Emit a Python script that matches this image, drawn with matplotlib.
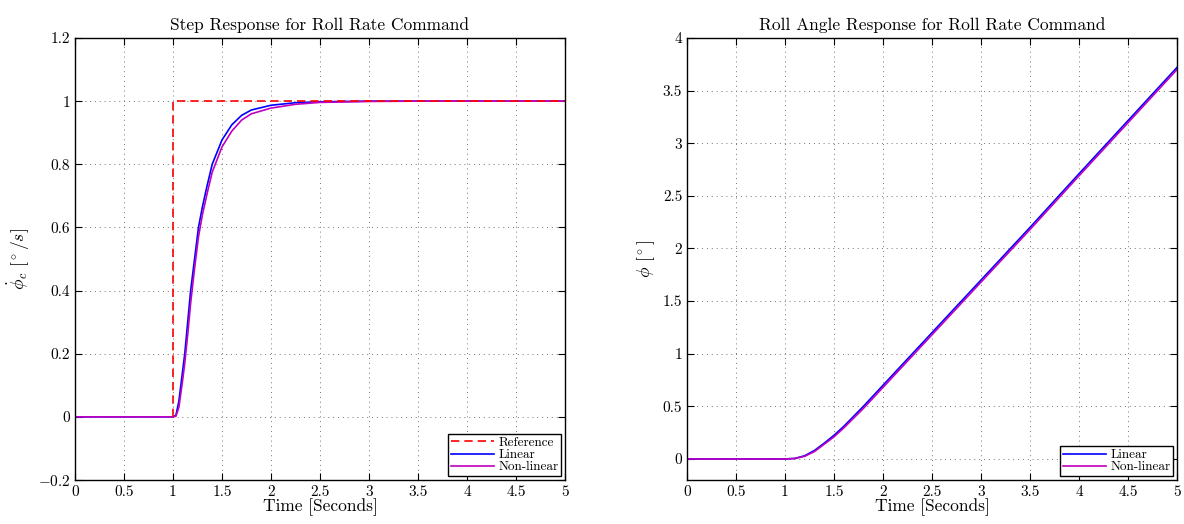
import numpy as np
from matplotlib import pyplot as plt

# step response
t_ref = [1.0, 1.0, 5.0]
r_ref = [0.0, 1.0, 1.0]

t_rate = [0.0, 0.5, 1.0, 1.03, 1.06, 1.1, 1.12, 1.15, 1.18, 1.22, 1.26, 1.3, 1.35,
          1.4, 1.5, 1.6, 1.7, 1.8, 2.0, 2.25, 2.5, 3.0, 3.5, 4.0, 4.5, 5.0]
rate_lin = [0.0, 0.0, 0.0, 0.005, 0.05, 0.15, 0.2, 0.3, 0.4, 0.5, 0.6, 0.665, 0.735,
            0.8, 0.877, 0.925, 0.955, 0.972, 0.987, 0.995, 0.998, 1.0, 1.0, 1.0, 1.0, 1.0]
rate_nl = [0.0, 0.0, 0.0, 0.002, 0.03, 0.12, 0.17, 0.26, 0.36, 0.47, 0.57, 0.64, 0.71,
           0.775, 0.855, 0.905, 0.94, 0.96, 0.978, 0.99, 0.996, 0.999, 1.0, 1.0, 1.0, 1.0]

# roll angle
t_ang = [0.0, 0.5, 1.0, 1.1, 1.2, 1.3, 1.4, 1.5, 1.6, 1.8, 2.0, 2.5, 3.0, 3.5, 4.0, 4.5, 5.0]
ang_lin = [0.0, 0.0, 0.0, 0.005, 0.03, 0.08, 0.15, 0.225, 0.31, 0.5, 0.7, 1.2, 1.7,
           2.2, 2.71, 3.215, 3.72]
ang_nl = [0.0, 0.0, 0.0, 0.004, 0.025, 0.07, 0.14, 0.21, 0.295, 0.48, 0.68, 1.18, 1.68,
          2.18, 2.69, 3.195, 3.70]

plt.rcParams['font.family'] = 'serif'
plt.rcParams['font.serif'] = ['cmr10', 'DejaVu Serif']
plt.rcParams['mathtext.fontset'] = 'cm'
plt.rcParams['axes.formatter.use_mathtext'] = True

fig = plt.figure(figsize=(11.84, 5.24), dpi=100)
ax1 = fig.add_axes([75/1184, 44/524, 490/1184, 442/524])
ax2 = fig.add_axes([687/1184, 44/524, 490/1184, 442/524])

leg_kw = dict(loc='lower right', fontsize=9.5, labelspacing=0.0, handlelength=3.3,
              handletextpad=0.3, borderpad=0.2, borderaxespad=0.3,
              fancybox=False, edgecolor='k', framealpha=1)

ax1.plot(t_rate, rate_lin, color='b', lw=1.2, label='Linear')
ax1.plot(t_rate, rate_nl, color='m', lw=1.2, label='Non-linear')
ax1.plot(t_ref, r_ref, 'r--', lw=1.2, label='Reference', dashes=(5, 3))
ax1.set_xlim(0, 5)
ax1.set_ylim(-0.2, 1.2)
ax1.set_yticks(np.arange(-0.2, 1.21, 0.2))
ax1.set_yticklabels(['$-0.2$', '0', '0.2', '0.4', '0.6', '0.8', '1', '1.2'])
ax1.set_title('Step Response for Roll Rate Command', fontsize=12.5)
ax1.set_xlabel('Time [Seconds]', fontsize=12.5, labelpad=0)
ax1.set_ylabel(r'$\dot{\phi}_c$ [$^\circ/s$]', fontsize=12.5)
h, l = ax1.get_legend_handles_labels()
ax1.legend([h[2], h[0], h[1]], [l[2], l[0], l[1]], **leg_kw)

ax2.plot(t_ang, ang_lin, color='b', lw=1.2, label='Linear')
ax2.plot(t_ang, ang_nl, color='m', lw=1.2, label='Non-linear')
ax2.set_xlim(0, 5)
ax2.set_ylim(-0.2, 4)
ax2.set_yticks(np.arange(0, 4.01, 0.5))
ax2.set_yticklabels(['0', '0.5', '1', '1.5', '2', '2.5', '3', '3.5', '4'])
ax2.set_title('Roll Angle Response for Roll Rate Command', fontsize=12.5)
ax2.set_xlabel('Time [Seconds]', fontsize=12.5, labelpad=0)
ax2.set_ylabel(r'$\phi$ [$^\circ$]', fontsize=12.5)
ax2.legend(**leg_kw)

for ax in (ax1, ax2):
    ax.set_xticks(np.arange(0, 5.01, 0.5))
    ax.set_xticklabels(['0', '0.5', '1', '1.5', '2', '2.5', '3', '3.5', '4', '4.5', '5'])
    ax.grid(True, linestyle=(0, (1, 4)), color='0.45', lw=0.7)
    ax.tick_params(direction='in', top=True, right=True, length=5, labelsize=11)
    for s in ax.spines.values():
        s.set_linewidth(1.0)
    ax.get_legend().get_frame().set_linewidth(1.0)

fig.savefig('out.png', dpi=100)
